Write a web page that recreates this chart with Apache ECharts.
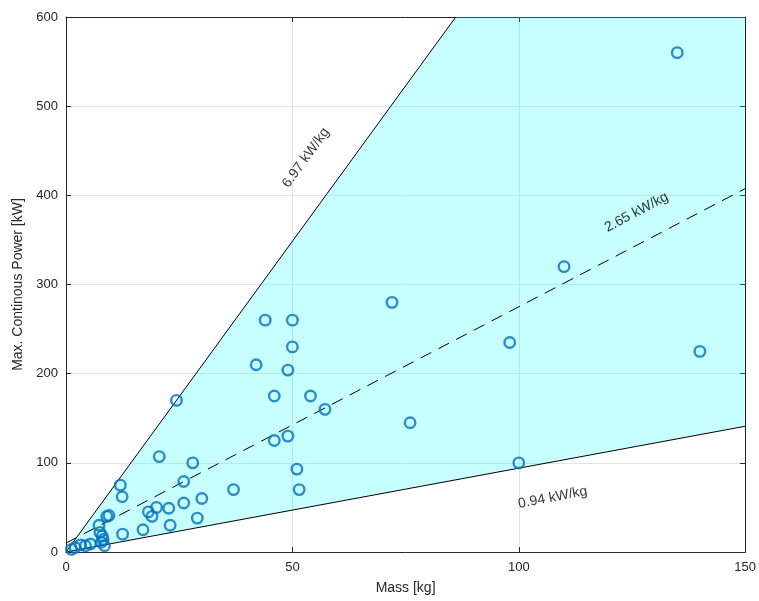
<!DOCTYPE html>
<html>
<head>
<meta charset="utf-8">
<script src="https://cdn.jsdelivr.net/npm/echarts@6/dist/echarts.min.js"></script>
<style>
  html, body { margin: 0; padding: 0; background: #fff; }
  #chart { width: 759px; height: 601px; }
</style>
</head>
<body>
<div id="chart"></div>
<script>
// measured motors: mass [kg], max. continuous power [kW]
var mass = [135, 140, 110, 98, 100, 76, 72, 57.2, 54, 44, 50, 50, 42, 49, 46, 46, 49, 51, 51.5,
  24.4, 20.6, 28, 26, 37, 12, 12.4, 30, 26, 22.7, 20, 18.2, 19, 29, 23, 17, 12.5,
  9, 9.5, 7.3, 7.5, 8, 8.2, 7.8, 8.5, 5.4, 4.3, 3.2, 2, 1.2];
var power = [560, 225, 320, 235, 100, 145, 280, 160, 175, 260, 260, 230, 210, 204, 175, 125, 130, 93, 70,
  170, 107, 100, 79, 70, 75, 62, 60, 55, 49, 50, 45, 40, 38, 30, 25, 20,
  40, 41, 30, 22, 18, 14, 11, 7, 9, 7, 8, 5, 3];

// power-to-mass lines [kW/kg]
var upperSlope = 6.97;
var midSlope = 2.65;
var midOffset = 10;
var lowerSlope = 0.94;

var xMax = 150, yMax = 600;

// text labels: [x, y, text, angle]
var notes = [
  [53, 442, "6.97 kW/kg", 54],
  [126, 381, "2.65 kW/kg", 28],
  [107.5, 61, "0.94 kW/kg", 11]
];

var axisColor = "#262626";
var font = "Liberation Sans, Arial, sans-serif";

var upperLine = [[0, 0], [yMax / upperSlope, yMax]];
var midLine = [[0, midOffset], [xMax, midSlope * xMax + midOffset]];
var lowerLine = [[0, 0], [xMax, lowerSlope * xMax]];
var band = [[0, 0], [yMax / upperSlope, yMax], [xMax, yMax], [xMax, lowerSlope * xMax]];

var myChart = echarts.init(document.getElementById("chart"));
var option = {
  animation: false,
  grid: { left: 66, right: 13, top: 17, bottom: 49 },
  xAxis: [
    {
      type: "value", min: 0, max: xMax, interval: 50,
      name: "Mass [kg]", nameLocation: "middle", nameGap: 29,
      nameTextStyle: { color: axisColor, fontSize: 14, fontFamily: font },
      axisLine: { onZero: false, lineStyle: { color: axisColor, width: 1 } },
      axisTick: { inside: true, length: 5, lineStyle: { color: axisColor } },
      axisLabel: { color: axisColor, fontSize: 13, fontFamily: font, margin: 9 },
      splitLine: { show: true, lineStyle: { color: "#e3e3e3", width: 1 } }
    },
    {
      type: "value", min: 0, max: xMax, interval: 50, position: "top",
      axisLine: { onZero: false, lineStyle: { color: axisColor, width: 1 } },
      axisTick: { inside: true, length: 5, lineStyle: { color: axisColor } },
      axisLabel: { show: false },
      splitLine: { show: false }
    }
  ],
  yAxis: [
    {
      type: "value", min: 0, max: yMax, interval: 100,
      name: "Max. Continous Power [kW]", nameLocation: "middle", nameGap: 41,
      nameTextStyle: { color: axisColor, fontSize: 14, fontFamily: font },
      axisLine: { show: true, onZero: false, lineStyle: { color: axisColor, width: 1 } },
      axisTick: { show: true, inside: true, length: 5, lineStyle: { color: axisColor } },
      axisLabel: { color: axisColor, fontSize: 13, fontFamily: font, margin: 8 },
      splitLine: { show: true, lineStyle: { color: "#e3e3e3", width: 1 } }
    },
    {
      type: "value", min: 0, max: yMax, interval: 100, position: "right",
      axisLine: { show: true, onZero: false, lineStyle: { color: axisColor, width: 1 } },
      axisTick: { show: true, inside: true, length: 5, lineStyle: { color: axisColor } },
      axisLabel: { show: false },
      splitLine: { show: false }
    }
  ],
  series: [
    {
      type: "custom",
      z: 1,
      data: [[0, 0]],
      renderItem: function (params, api) {
        var pts = band.map(function (p) { return api.coord(p); });
        return {
          type: "polygon",
          shape: { points: pts },
          style: { fill: "rgba(0,255,255,0.22)", stroke: null }
        };
      }
    },
    {
      type: "line", z: 3, symbol: "none", data: upperLine,
      lineStyle: { color: "#000", width: 1 }
    },
    {
      type: "line", z: 3, symbol: "none", data: midLine,
      lineStyle: { color: "#000", width: 1, type: [12, 8] }
    },
    {
      type: "line", z: 3, symbol: "none", data: lowerLine,
      lineStyle: { color: "#000", width: 1 }
    },
    {
      type: "scatter", z: 5,
      data: mass.map(function (m, i) { return [m, power[i]]; }),
      symbol: "circle", symbolSize: 10.5,
      itemStyle: { color: "rgba(255,255,255,0)", borderColor: "#0072BD", borderWidth: 2.4 }
    },
    {
      type: "scatter", z: 6, symbolSize: 1, silent: true,
      itemStyle: { color: "rgba(0,0,0,0)" },
      data: notes.map(function (n) {
        return { value: [n[0], n[1]], text: n[2], label: { rotate: n[3] } };
      }),
      label: {
        show: true, position: "inside", color: "#000", fontSize: 14, fontFamily: font,
        textBorderWidth: 0,
        formatter: function (p) { return p.data.text; }
      }
    }
  ]
};
myChart.setOption(option, true);
</script>
</body>
</html>
